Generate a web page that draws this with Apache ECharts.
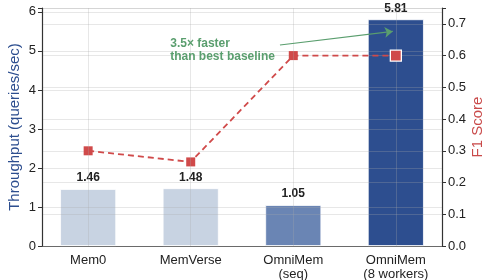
<!DOCTYPE html>
<html>
<head>
<meta charset="utf-8">
<script src="https://cdn.jsdelivr.net/npm/echarts@6/dist/echarts.min.js"></script>
<style>
  html, body { margin: 0; padding: 0; background: #fff; }
  #chart { width: 483px; height: 280px; }
</style>
</head>
<body>
<div id="chart"></div>
<script>
const categories = ['Mem0', 'MemVerse', 'OmniMem\n(seq)', 'OmniMem\n(8 workers)']
const throughput = [1.46, 1.48, 1.05, 5.81]
const f1Score = [0.30, 0.265, 0.60, 0.60]
const barColors = ['#c8d3e2', '#c8d3e2', '#6a85b4', '#2d4e8f']
const leftTicks = [0, 1, 2, 3, 4, 5, 6]
const rightTicks = [0.0, 0.1, 0.2, 0.3, 0.4, 0.5, 0.6, 0.7]
const note = '3.5× faster\nthan best baseline'

const font = 'Liberation Sans, Arial, sans-serif'
const gridColor = 'rgba(170,170,170,0.28)'

const chart = echarts.init(document.getElementById('chart'))

chart.setOption({
  animation: false,
  textStyle: { fontFamily: font },
  grid: { left: 42, right: 41, top: 8, bottom: 34, outerBoundsMode: 'none', containLabel: false },
  xAxis: {
    type: 'value',
    min: -0.45,
    max: 3.45,
    axisLine: { show: true, onZero: false, lineStyle: { color: '#333', width: 1.2 } },
    axisTick: { show: false },
    splitLine: { show: false },
    axisLabel: {
      customValues: [0, 1, 2, 3],
      formatter: v => categories[Math.round(v)],
      color: '#222',
      fontSize: 13,
      lineHeight: 14,
      margin: 7
    }
  },
  yAxis: [
    {
      type: 'value',
      min: 0,
      max: 6.1,
      interval: 1,
      z: 2,
      name: 'Throughput (queries/sec)',
      nameLocation: 'middle',
      nameGap: 20,
      nameMoveOverlap: false,
      nameRotate: 90,
      nameTextStyle: { color: '#2d4e8f', fontSize: 15 },
      axisLine: { show: true, onZero: false, lineStyle: { color: '#333', width: 1.2 } },
      axisTick: { show: true, length: 4, lineStyle: { color: '#333' } },
      axisLabel: { color: '#222', fontSize: 13, margin: 6, formatter: v => leftTicks.includes(v) ? String(v) : '' },
      splitLine: { show: true, lineStyle: { color: gridColor, width: 1 } }
    },
    {
      type: 'value',
      min: 0,
      max: 0.75,
      interval: 0.1,
      z: 2,
      name: 'F1 Score',
      nameLocation: 'middle',
      nameGap: 28,
      nameMoveOverlap: false,
      nameRotate: 90,
      nameTextStyle: { color: '#c94a4a', fontSize: 15 },
      axisLine: { show: true, onZero: false, lineStyle: { color: '#333', width: 1.2 } },
      axisTick: { show: true, length: 4, lineStyle: { color: '#333' } },
      axisLabel: {
        color: '#222', fontSize: 13, margin: 6,
        formatter: v => {
          const t = rightTicks.find(r => Math.abs(r - v) < 1e-6)
          return t === undefined ? '' : t.toFixed(1)
        }
      },
      splitLine: { show: true, lineStyle: { color: gridColor, width: 1 } }
    }
  ],
  series: [
    {
      type: 'bar',
      yAxisIndex: 0,
      z: 1,
      barWidth: 56,
      data: throughput.map((v, i) => ({
        value: [i, v],
        itemStyle: { color: barColors[i], borderColor: '#fff', borderWidth: 0.8 }
      })),
      label: {
        show: true,
        position: 'top',
        distance: 5,
        formatter: p => p.value[1].toFixed(2),
        color: '#222',
        fontWeight: 'bold',
        fontSize: 12
      },
      markLine: {
        silent: true,
        symbol: 'none',
        label: { show: false },
        lineStyle: { color: gridColor, type: 'solid', width: 1 },
        data: [0, 1, 2, 3].map(i => ({ xAxis: i }))
      }
    },
    {
      type: 'line',
      yAxisIndex: 1,
      z: 3,
      data: f1Score.map((v, i) => [i, v]),
      symbol: 'rect',
      symbolSize: 9,
      lineStyle: { color: '#d04a4a', width: 1.8, type: [6, 4] },
      itemStyle: { color: '#d04a4a', borderColor: '#fff', borderWidth: 0 },
      markPoint: {
        symbol: 'rect',
        symbolSize: 11,
        itemStyle: { color: '#d04a4a', borderColor: '#fff', borderWidth: 1.3 },
        label: { show: false },
        data: [{ coord: [3, f1Score[3]] }]
      }
    },
    {
      type: 'line',
      yAxisIndex: 0,
      z: 4,
      data: [],
      markLine: {
        silent: true,
        symbol: ['none', 'arrow'],
        symbolSize: 8,
        label: { show: false },
        lineStyle: { color: '#5a9e6e', width: 1.1, type: 'solid' },
        data: [[{ coord: [1.87, 5.15] }, { coord: [2.97, 5.5] }]]
      },
      markPoint: {
        symbol: 'rect',
        symbolSize: 0,
        label: {
          show: true,
          position: 'right',
          distance: 0,
          formatter: note,
          align: 'left',
          color: '#5a9e6e',
          fontWeight: 'bold',
          fontSize: 12,
          lineHeight: 13
        },
        data: [{ coord: [0.8, 5.03] }]
      }
    }
  ]
})
</script>
</body>
</html>
